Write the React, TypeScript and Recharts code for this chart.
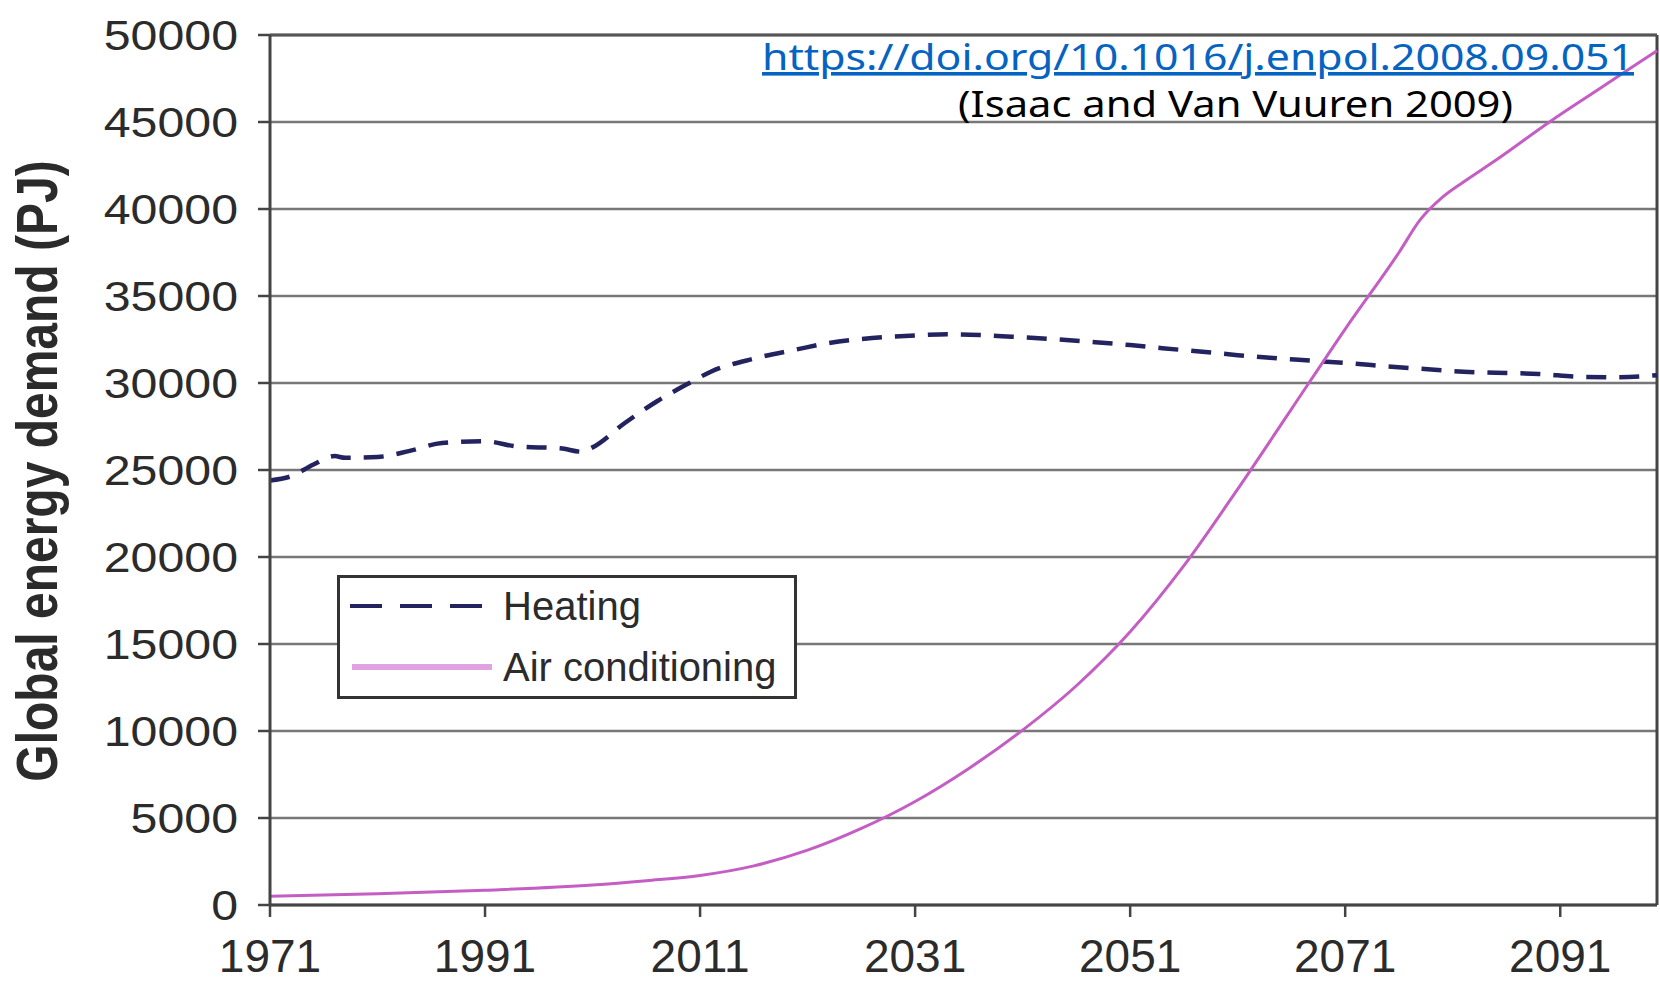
import React from 'react';
import { CartesianGrid, Legend, Line, LineChart, ReferenceLine, XAxis, YAxis } from 'recharts';

// values (PJ)
const heatingYears = [
  1971, 1973, 1975, 1977, 1978, 1981, 1984, 1987, 1991, 1994, 1998, 2000, 2001, 2004, 2007, 2010, 2012,
  2016, 2020, 2023, 2027, 2031, 2034, 2037, 2040, 2044, 2047, 2051, 2054, 2058, 2061, 2064, 2068, 2072,
  2075, 2079, 2082, 2085, 2089, 2093, 2096, 2100,
];
const heatingValues = [
  24400, 24650, 25300, 25800, 25700, 25750, 26100, 26550, 26650, 26350, 26250, 26050, 26300, 27700, 28950,
  30000, 30650, 31400, 31930, 32300, 32580, 32730, 32800, 32760, 32660, 32520, 32380, 32180, 32000, 31780,
  31600, 31450, 31280, 31100, 30950, 30780, 30650, 30590, 30520, 30350, 30330, 30450,
];

const coolingYears = [
  1971, 1981, 1991, 2001, 2006, 2011, 2016, 2021, 2026, 2031, 2036, 2041, 2046, 2051, 2056, 2061, 2066,
  2071, 2076, 2078, 2080, 2082, 2085, 2090, 2095, 2100,
];
const coolingValues = [
  500, 650, 850, 1150, 1400, 1700, 2250, 3150, 4400, 5950, 7850, 10050, 12600, 15700, 19500, 23900, 28500,
  33100, 37500, 39400, 40650, 41550, 42800, 45000, 47050, 49100,
];

const yTicks = [0, 5000, 10000, 15000, 20000, 25000, 30000, 35000, 40000, 45000, 50000];
const xTicks = [1971, 1991, 2011, 2031, 2051, 2071, 2091];

const heatingData = heatingYears.map((year, i) => ({ year, heating: heatingValues[i] }));
const coolingData = coolingYears.map((year, i) => ({ year, cooling: coolingValues[i] }));

const FONT = '"Liberation Sans", Arial, sans-serif';
const HEAT_COLOR = '#23235f';
const COOL_COLOR = '#c45ec4';

const YTick = ({ x, y, payload }: any) => (
  <g transform={`translate(${x},${y})`}>
    <text transform="scale(1.15,1)" textAnchor="end" dy="0.355em" fontSize={42} fill="#2b2b2b" fontFamily={FONT}>
      {payload.value}
    </text>
  </g>
);

const XTick = ({ x, y, payload }: any) => (
  <text x={x} y={y} dy="0.71em" textAnchor="middle" fontSize={46} fill="#2b2b2b" fontFamily={FONT}>
    {payload.value}
  </text>
);

const LegendBox = () => (
  <svg width={460} height={124} style={{ display: 'block' }}>
    <rect x={1.5} y={1.5} width={457} height={121} fill="#fff" stroke="#333" strokeWidth={3} />
    <line x1={13} y1={31} x2={146} y2={31} stroke={HEAT_COLOR} strokeWidth={4} strokeDasharray="32 18" />
    <text x={166} y={31} dy="0.355em" fontSize={40} fill="#2b2b2b" fontFamily={FONT}>Heating</text>
    <line x1={15} y1={92} x2={155} y2={92} stroke="#e0a2e0" strokeWidth={6} />
    <text x={166} y={92} dy="0.355em" fontSize={40} fill="#2b2b2b" fontFamily={FONT}>Air conditioning</text>
  </svg>
);

export default function App() {
  return (
    <div style={{ position: 'absolute', left: 0, top: 0, width: 1660, height: 983, background: '#fff' }}>
      <LineChart width={1660} height={983} margin={{ top: 35, right: 3, bottom: 0, left: 0 }}>
        <CartesianGrid vertical={false} stroke="#777" strokeWidth={2.5} />
        <XAxis
          type="number"
          dataKey="year"
          domain={[1971, 2100]}
          ticks={xTicks}
          height={78}
          tickSize={12}
          tickMargin={22}
          tick={<XTick />}
          axisLine={{ stroke: '#444', strokeWidth: 3 }}
          tickLine={{ stroke: '#444', strokeWidth: 2.5 }}
          allowDuplicatedCategory={false}
        />
        <YAxis
          type="number"
          domain={[0, 50000]}
          ticks={yTicks}
          width={270}
          tickSize={12}
          tickMargin={20}
          tick={<YTick />}
          axisLine={{ stroke: '#444', strokeWidth: 3 }}
          tickLine={{ stroke: '#444', strokeWidth: 2.5 }}
        />
        <ReferenceLine x={2100} stroke="#444" strokeWidth={3} />
        <ReferenceLine y={50000} stroke="#555" strokeWidth={3} />
        <Line
          data={heatingData}
          dataKey="heating"
          name="Heating"
          type="monotone"
          stroke={HEAT_COLOR}
          strokeWidth={4.5}
          strokeDasharray="20 13"
          dot={false}
          activeDot={false}
          isAnimationActive={false}
        />
        <Line
          data={coolingData}
          dataKey="cooling"
          name="Air conditioning"
          type="monotone"
          stroke={COOL_COLOR}
          strokeWidth={3}
          dot={false}
          activeDot={false}
          isAnimationActive={false}
        />
        <Legend
          layout="vertical"
          align="center"
          verticalAlign="middle"
          content={<LegendBox />}
          wrapperStyle={{ position: 'absolute', left: 337, top: 575, width: 460, height: 124 }}
        />
      </LineChart>
      <svg
        width={1660}
        height={983}
        style={{ position: 'absolute', left: 0, top: 0, pointerEvents: 'none' }}
      >
        <text
          transform="translate(57,471) rotate(-90) scale(1,1.2)"
          textAnchor="middle"
          fontSize={48}
          fontWeight="bold"
          fill="#2b2b2b"
          fontFamily={FONT}
        >
          Global energy demand (PJ)
        </text>
        <text
          x={762}
          y={70}
          textLength={872}
          lengthAdjust="spacingAndGlyphs"
          fontSize={36}
          fill="#0563c1"
          fontFamily='"Noto Sans", sans-serif'
          style={{ textDecoration: 'underline' }}
        >
          https://doi.org/10.1016/j.enpol.2008.09.051
        </text>
        <text
          x={958}
          y={117}
          textLength={555}
          lengthAdjust="spacingAndGlyphs"
          fontSize={36}
          fill="#000"
          fontFamily='"Noto Sans", sans-serif'
        >
          (Isaac and Van Vuuren 2009)
        </text>
      </svg>
    </div>
  );
}
